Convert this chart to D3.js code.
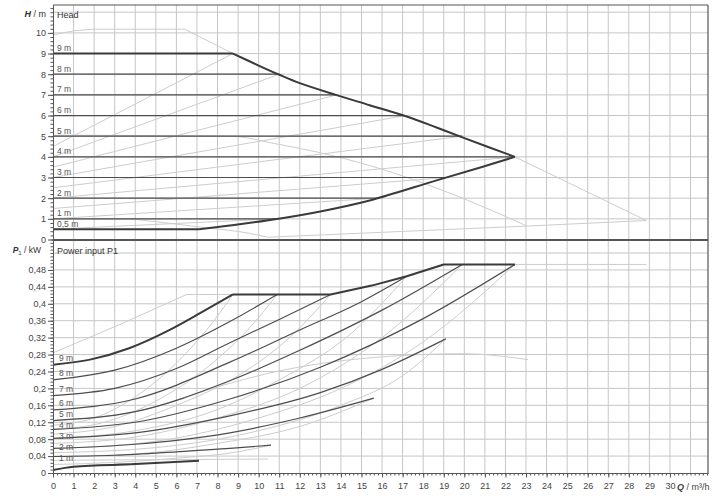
<!DOCTYPE html>
<html>
<head>
<meta charset="utf-8">
<script src="https://cdn.jsdelivr.net/npm/d3@7"></script>
<title>Pump curves</title>
<style>
body { margin: 0; background: #fff; }
text { font-family: "Liberation Sans", Arial, sans-serif; }
</style>
</head>
<body>
<div id="viz"></div>
<script>

// ticks
var qTicks = [0,1,2,3,4,5,6,7,8,9,10,11,12,13,14,15,16,17,18,19,20,21,22,23,24,25,26,27,28,29,30];
var headTicks = [0,1,2,3,4,5,6,7,8,9,10];
var powerTicks = [0,0.04,0.08,0.12,0.16,0.2,0.24,0.28,0.32,0.36,0.4,0.44,0.48];
var powerTickLabels = ["0","0,04","0,08","0,12","0,16","0,2","0,24","0,28","0,32","0,36","0,4","0,44","0,48"];

// head: constant pressure setpoints (dark horizontal lines)
var setpoints = [9,8,7,6,5,4,3,2,1,0.5];
var setpointLabels = ["9 m","8 m","7 m","6 m","5 m","4 m","3 m","2 m","1 m","0,5 m"];
var setpointEndQ = [8.75,11.0,13.8,17.15,19.9,22.46,19.1,15.8,10.85,7.1];

// head: bold boundary curves
var maxCurve = [[8.75,9],[10,8.42],[11.04,7.96],[12,7.57],[13.79,6.99],[15.4,6.5],[17.2,5.95],[18.65,5.42],[19.94,4.93],[22.46,4]];
var minCurve = [[7.1,0.5],[8.6,0.68],[10.4,0.92],[13,1.36],[15.4,1.89],[18.65,2.86],[20.9,3.52],[22.46,4]];

// head: light curves
var dpvStartH = [4.5,4,3.5,3,2.5,2,1.5,1,0.5];
var lightMaxHead = [[0,9.9],[1,10.1],[1.95,10.18],[6.4,10.18],[8.75,9]];
var lightTailHead = [[22.46,4],[28.85,0.92],[23.05,0.65],[10.45,0.11]];
var lightMinHead = [[0,1],[3.75,0.98],[5,0.86],[7,0.62],[9.6,0.29],[10.45,0.11]];
var lightMidHead = [[0,5.05],[8.6,5.0],[11,4.6],[13.5,4.08],[16,3.4],[18.3,2.62],[21,1.55],[23.05,0.65]];

// power: dark curves per setpoint
var pow9 = [[0,0.256],[1.8,0.268],[3.7,0.295],[5.7,0.339],[7.3,0.382],[8.75,0.422]];
var pow8 = [[0,0.22],[3,0.243],[6,0.295],[8.6,0.358],[10.9,0.422]];
var pow7 = [[0,0.183],[3,0.2],[6,0.247],[8.6,0.308],[11,0.363],[13.5,0.422]];
var pow6 = [[0,0.149],[4,0.175],[8.6,0.262],[12,0.338],[15,0.405],[17.2,0.465]];
var pow5 = [[0,0.124],[4,0.145],[8.6,0.218],[12,0.29],[16,0.385],[19.9,0.493]];
var pow4 = [[0,0.103],[4,0.12],[8.6,0.175],[13,0.25],[18,0.365],[22.46,0.493]];
var pow3 = [[0,0.082],[4,0.095],[8.6,0.135],[13,0.19],[16,0.245],[19.1,0.317]];
var pow2 = [[0,0.058],[4,0.068],[8.6,0.095],[12,0.13],[15.6,0.177]];
var pow1 = [[0,0.039],[3,0.042],[6,0.05],[8.6,0.058],[10.6,0.066]];
var pow05 = [[0,0.007],[1,0.015],[4,0.021],[7.1,0.029]];
var powEnvelope = [[8.75,0.422],[13.5,0.422],[15.5,0.443],[17.2,0.465],[19,0.493],[22.46,0.493]];

// power: light curves
var pv9 = [[0,0.113],[2,0.13],[4,0.18],[6,0.26],[7.5,0.34],[8.75,0.422]];
var pv8 = [[0,0.103],[2.5,0.12],[5,0.17],[7.5,0.25],[9.5,0.34],[10.9,0.422]];
var pv7 = [[0,0.092],[3,0.11],[6,0.16],[9,0.23],[11.5,0.32],[13.5,0.422]];
var pv6 = [[0,0.082],[4,0.1],[8,0.15],[11,0.22],[14.5,0.33],[17.2,0.465]];
var pv5 = [[0,0.07],[4,0.085],[8,0.13],[12,0.2],[16,0.32],[19.9,0.493]];
var pv4 = [[0,0.058],[5,0.075],[10,0.13],[14,0.2],[18,0.31],[22.46,0.493]];
var pv3 = [[0,0.048],[5,0.06],[10,0.1],[14,0.16],[17,0.23],[19.1,0.317]];
var pv2 = [[0,0.039],[4,0.045],[8,0.07],[12,0.11],[15.6,0.177]];
var pv1 = [[0,0.02],[3,0.025],[6,0.035],[9,0.05],[10.6,0.066]];
var lightMaxPow = [[0,0.284],[3.2,0.35],[6.5,0.422],[8.75,0.422]];
var lightTailPow = [[22.46,0.493],[28.86,0.493]];
var lightMidPow = [[0,0.124],[4,0.145],[8.6,0.212],[10.5,0.236],[13.5,0.262],[16.4,0.276],[20,0.282],[23.1,0.268]];
var lightMinPow = [[0,0.03],[10.45,0.033]];

var W = 727, H = 500;
var padL = 53, padR = 708, padT = 5, padMid = 239.5, padB = 473;

var svg = d3.select("#viz").append("svg")
    .attr("width", W).attr("height", H)
    .style("display", "block");
svg.append("rect").attr("width", W).attr("height", H).attr("fill", "#fff");

var x = d3.scaleLinear().domain([0, 31.85]).range([padL, padR]);
var yH = d3.scaleLinear().domain([0, 11.35]).range([padMid, padT]);
var yP = d3.scaleLinear().domain([0, 0.5508]).range([padB, 240]);

var grid = svg.append("g").attr("stroke", "#c6c6c6").attr("stroke-width", 1);
d3.range(1, 32).forEach(function(q){
    grid.append("line").attr("x1", x(q)).attr("x2", x(q)).attr("y1", padT).attr("y2", padB);
});
d3.range(1, 12).forEach(function(h){
    grid.append("line").attr("x1", padL).attr("x2", padR).attr("y1", yH(h)).attr("y2", yH(h));
});
d3.range(1, 14).forEach(function(i){
    var p = i*0.04;
    grid.append("line").attr("x1", padL).attr("x2", padR).attr("y1", yP(p)).attr("y2", yP(p));
});

var headLine = d3.line().x(function(d){return x(d[0]);}).y(function(d){return yH(d[1]);});
var powLine = d3.line().x(function(d){return x(d[0]);}).y(function(d){return yP(d[1]);});
var headSmooth = d3.line().x(function(d){return x(d[0]);}).y(function(d){return yH(d[1]);}).curve(d3.curveMonotoneX);
var headRound = d3.line().x(function(d){return x(d[0]);}).y(function(d){return yH(d[1]);}).curve(d3.curveCatmullRom);
var powSmooth = d3.line().x(function(d){return x(d[0]);}).y(function(d){return yP(d[1]);}).curve(d3.curveMonotoneX);

function draw(path, data, color, width){
    svg.append("path").attr("d", path(data))
        .attr("fill", "none").attr("stroke", color)
        .attr("stroke-width", width).attr("stroke-linejoin", "round");
}

var light = "#cdcdcd";

// light curves, head
dpvStartH.forEach(function(h0, i){
    var sp = setpoints[i];
    draw(headLine, [[0, h0], [setpointEndQ[i], sp]], light, 1);
});
draw(headLine, lightMaxHead, light, 1);
draw(headRound, maxCurve, light, 1);
draw(headLine, lightTailHead, light, 1);
draw(headSmooth, lightMinHead, light, 1);
draw(headSmooth, lightMidHead, light, 1);

// light curves, power
[pv9, pv8, pv7, pv6, pv5, pv4, pv3, pv2, pv1].forEach(function(c){
    draw(powSmooth, c, light, 1);
});
draw(powLine, lightMaxPow, light, 1);
draw(powLine, lightTailPow, light, 1);
draw(powSmooth, lightMidPow, light, 1);
draw(powLine, lightMinPow, light, 1);

// dark setpoint lines, head
setpoints.forEach(function(h, i){
    var thick = (h == 9 || h == 0.5);
    draw(headLine, [[0, h], [setpointEndQ[i], h]], thick ? "#3a3a3a" : "#4d4d4d", thick ? 2 : 1.2);
});
draw(headRound, maxCurve, "#3a3a3a", 2);
draw(headRound, minCurve, "#3a3a3a", 2);

// dark power curves
var powCurves = [pow9, pow8, pow7, pow6, pow5, pow4, pow3, pow2, pow1];
powCurves.forEach(function(c, i){
    draw(powSmooth, c, i == 0 ? "#3a3a3a" : "#4d4d4d", i == 0 ? 2 : 1.2);
});
draw(powSmooth, pow05, "#3a3a3a", 2);
draw(powLine, powEnvelope, "#3a3a3a", 2);

// frame
var frame = svg.append("g").attr("stroke", "#555").attr("fill", "none");
frame.append("line").attr("x1", padL).attr("x2", padR).attr("y1", padT).attr("y2", padT).attr("stroke-width", 1.2);
frame.append("line").attr("x1", padR).attr("x2", padR).attr("y1", padT).attr("y2", padB).attr("stroke-width", 1.2);
frame.append("line").attr("x1", padL).attr("x2", padR).attr("y1", padMid + 0.5).attr("y2", padMid + 0.5).attr("stroke-width", 2);

// axes
function styleAxis(g){
    g.selectAll("path.domain").attr("stroke", "#555");
    g.selectAll(".tick line").attr("stroke", "#555");
    g.selectAll("text").attr("fill", "#444").attr("font-size", 9)
        .attr("font-family", "'Liberation Sans', Arial, sans-serif");
}

var minorQ = d3.range(0, 31.81, 0.2);
svg.append("g").attr("transform", "translate(0," + padB + ")")
    .call(d3.axisBottom(x).tickValues(minorQ).tickSize(2.5).tickSizeOuter(0).tickFormat(""))
    .call(styleAxis);
svg.append("g").attr("transform", "translate(0," + padB + ")")
    .call(d3.axisBottom(x).tickValues(qTicks).tickSize(4.5).tickSizeOuter(0).tickPadding(5).tickFormat(d3.format("d")))
    .call(styleAxis);

svg.append("g").attr("transform", "translate(" + padL + ",0)")
    .call(d3.axisLeft(yH).tickValues(d3.range(0, 11.3, 0.2)).tickSize(2.5).tickSizeOuter(0).tickFormat(""))
    .call(styleAxis);
svg.append("g").attr("transform", "translate(" + padL + ",0)")
    .call(d3.axisLeft(yH).tickValues(headTicks).tickSize(5).tickSizeOuter(0).tickPadding(2).tickFormat(d3.format("d")))
    .call(styleAxis);

svg.append("g").attr("transform", "translate(" + padL + ",0)")
    .call(d3.axisLeft(yP).tickValues(d3.range(0, 0.55, 0.008)).tickSize(2.5).tickSizeOuter(0).tickFormat(""))
    .call(styleAxis);
svg.append("g").attr("transform", "translate(" + padL + ",0)")
    .call(d3.axisLeft(yP).tickValues(powerTicks).tickSize(5).tickSizeOuter(0).tickPadding(2)
        .tickFormat(function(d){ return powerTickLabels[powerTicks.indexOf(d)]; }))
    .call(styleAxis);

// axis titles
var t1 = svg.append("text").attr("x", 46).attr("y", 17).attr("text-anchor", "end")
    .attr("font-size", 9).attr("fill", "#333");
t1.append("tspan").attr("font-style", "italic").attr("font-weight", "bold").text("H");
t1.append("tspan").text(" / m");

var t2 = svg.append("text").attr("x", 41).attr("y", 252.5).attr("text-anchor", "end")
    .attr("font-size", 8.5).attr("fill", "#333");
t2.append("tspan").attr("font-style", "italic").attr("font-weight", "bold").text("P");
t2.append("tspan").attr("font-size", 6).attr("dy", 2).text("1");
t2.append("tspan").attr("dy", -2).text(" / kW");

var t3 = svg.append("text").attr("x", 677).attr("y", 489.5)
    .attr("font-size", 9).attr("fill", "#444");
t3.append("tspan").attr("font-style", "italic").attr("font-weight", "bold").text("Q");
t3.append("tspan").text(" / m\u00b3/h");

svg.append("text").attr("x", 57).attr("y", 18).attr("font-size", 9).attr("fill", "#333").text("Head");
svg.append("text").attr("x", 57).attr("y", 254).attr("font-size", 9).attr("fill", "#333").text("Power input P1");

// setpoint labels
setpoints.forEach(function(h, i){
    svg.append("text").attr("x", 57).attr("y", yH(h) - 2.5)
        .attr("font-size", 8.5).attr("fill", "#555").text(setpointLabels[i]);
});
var lastY = 0;
powCurves.forEach(function(c, i){
    var cy = Math.max(yP(c[0][1]) - 7, lastY + 11);
    lastY = cy;
    svg.append("text").attr("x", 59).attr("y", cy + 3)
        .attr("font-size", 8.5).attr("fill", "#555").text(setpointLabels[i]);
});

</script>
</body>
</html>
